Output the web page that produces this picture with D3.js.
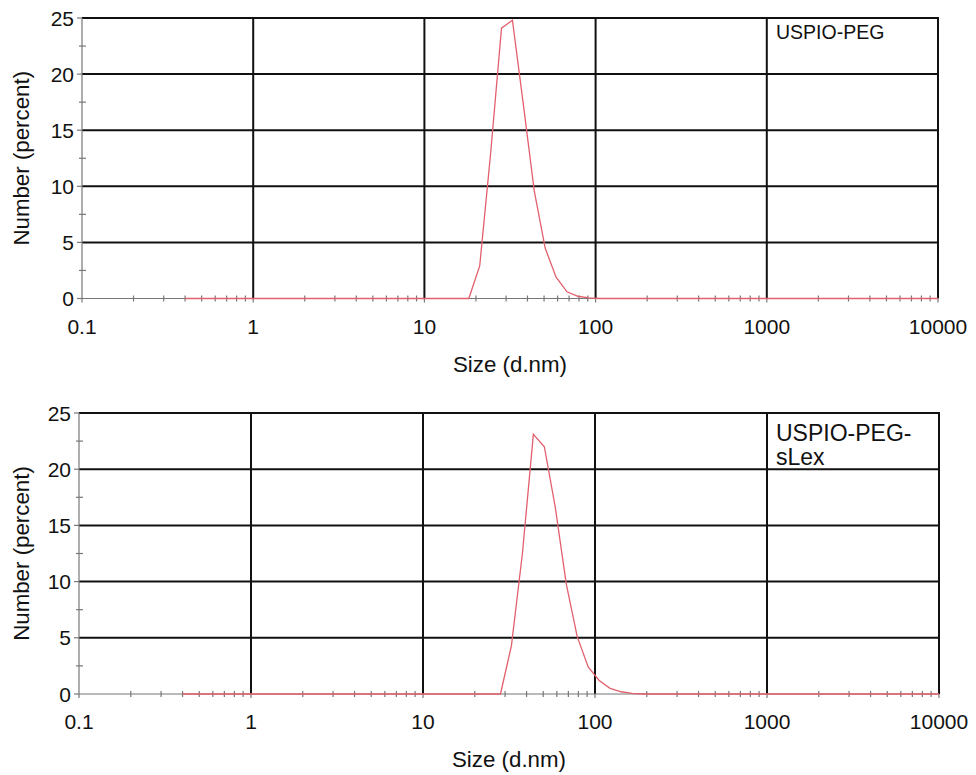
<!DOCTYPE html>
<html>
<head>
<meta charset="utf-8">
<script src="https://cdn.jsdelivr.net/npm/d3@7"></script>
<style>
  html, body { margin: 0; padding: 0; background: #fff; }
  svg { display: block; font-family: "Liberation Sans", Arial, Helvetica, sans-serif; }
</style>
</head>
<body>
<svg id="chart" width="976" height="775"></svg>
<script>
// ---- data ----
const sizes = [0.4, 0.4632, 0.5365, 0.6213, 0.7195, 0.8332, 0.9649, 1.117, 1.294, 1.499,
  1.736, 2.01, 2.328, 2.696, 3.122, 3.615, 4.187, 4.849, 5.615, 6.503,
  7.531, 8.721, 10.1, 11.7, 13.54, 15.69, 18.17, 21.04, 24.36, 28.21,
  32.67, 37.84, 43.82, 50.75, 58.77, 68.06, 78.82, 91.28, 105.7, 122.4,
  141.8, 164.2, 190.1, 220.2, 255.0, 295.3, 342.0, 396.1, 458.7, 531.2,
  615.1, 712.4, 825.0, 955.4, 1106, 1281, 1484, 1718, 1990, 2305,
  2669, 3091, 3580, 4145, 4801, 5560, 6439, 7456, 8635, 10000];

const pegValues = [0,0,0,0,0,0,0,0,0,0,
  0,0,0,0,0,0,0,0,0,0,
  0,0,0,0,0,0,0,2.9,12.9,24.1,
  24.8,17.3,9.6,4.5,1.9,0.6,0.2,0.05,0,0,
  0,0,0,0,0,0,0,0,0,0,
  0,0,0,0,0,0,0,0,0,0,
  0,0,0,0,0,0,0,0,0,0];

const slexValues = [0,0,0,0,0,0,0,0,0,0,
  0,0,0,0,0,0,0,0,0,0,
  0,0,0,0,0,0,0,0,0,0,
  4.3,12.5,23.1,22.0,16.6,9.8,5.1,2.4,1.2,0.5,
  0.2,0.06,0,0,0,0,0,0,0,0,
  0,0,0,0,0,0,0,0,0,0,
  0,0,0,0,0,0,0,0,0,0];

const xMajorTicks = [0.1, 1, 10, 100, 1000, 10000];
const xTickLabels = ["0.1", "1", "10", "100", "1000", "10000"];
const yMajorTicks = [0, 5, 10, 15, 20, 25];
const yMinorTicks = [2.5, 7.5, 12.5, 17.5, 22.5];
const xTitle = "Size (d.nm)";
const yTitle = "Number (percent)";
const legendTop = ["USPIO-PEG"];
const legendBottom = ["USPIO-PEG-", "sLex"];

// ---- layout ----
const panels = [
  { values: pegValues, x0: 82, x1: 938, yTop: 18, yBot: 298.5, legend: legendTop, legendSize: 19.5,
    legendX: 776, legendY: 39, tickBase: 334, titleBase: 372 },
  { values: slexValues, x0: 79, x1: 939, yTop: 413, yBot: 694, legend: legendBottom, legendSize: 23,
    legendX: 776, legendY: 441, tickBase: 729, titleBase: 767 }
];

const svg = d3.select("#chart");
const gridColor = "#111";
const axisColor = "#777";
const lineColor = "#e2606e";

const xMinor = [];
for (let e = -1; e < 4; e++) {
  for (let m = 2; m <= 9; m++) xMinor.push(m * Math.pow(10, e));
}

panels.forEach(p => {
  const x = d3.scaleLog().domain([0.1, 10000]).range([p.x0, p.x1]);
  const y = d3.scaleLinear().domain([0, 25]).range([p.yBot, p.yTop]);
  const g = svg.append("g");

  // horizontal grid lines
  g.selectAll(".hg").data(yMajorTicks.filter(d => d > 0)).enter().append("line")
    .attr("x1", p.x0).attr("x2", p.x1)
    .attr("y1", d => y(d)).attr("y2", d => y(d))
    .attr("stroke", gridColor).attr("stroke-width", 2);

  // vertical grid lines
  g.selectAll(".vg").data(xMajorTicks.filter(d => d > 0.1)).enter().append("line")
    .attr("x1", d => x(d)).attr("x2", d => x(d))
    .attr("y1", p.yTop - 1).attr("y2", p.yBot)
    .attr("stroke", gridColor).attr("stroke-width", 2);

  // left axis line
  g.append("line").attr("x1", p.x0).attr("x2", p.x0)
    .attr("y1", p.yTop).attr("y2", p.yBot)
    .attr("stroke", axisColor).attr("stroke-width", 1.2);
  // bottom axis line
  g.append("line").attr("x1", p.x0).attr("x2", p.x1)
    .attr("y1", p.yBot).attr("y2", p.yBot)
    .attr("stroke", axisColor).attr("stroke-width", 1.2);

  // y major ticks (left)
  g.selectAll(".ymt").data(yMajorTicks).enter().append("line")
    .attr("x1", p.x0 - 5).attr("x2", p.x0)
    .attr("y1", d => y(d)).attr("y2", d => y(d))
    .attr("stroke", axisColor).attr("stroke-width", 1.2);
  // y minor ticks (crossing)
  g.selectAll(".ymn").data(yMinorTicks).enter().append("line")
    .attr("x1", p.x0 - 3).attr("x2", p.x0 + 4)
    .attr("y1", d => y(d)).attr("y2", d => y(d))
    .attr("stroke", axisColor).attr("stroke-width", 1.2);
  // x minor ticks (crossing)
  g.selectAll(".xmn").data(xMinor).enter().append("line")
    .attr("x1", d => x(d)).attr("x2", d => x(d))
    .attr("y1", p.yBot - 3).attr("y2", p.yBot + 3)
    .attr("stroke", axisColor).attr("stroke-width", 1.2);
  // x major ticks (down)
  g.selectAll(".xmj").data(xMajorTicks).enter().append("line")
    .attr("x1", d => x(d)).attr("x2", d => x(d))
    .attr("y1", p.yBot).attr("y2", p.yBot + 4)
    .attr("stroke", axisColor).attr("stroke-width", 1.2);

  // y tick labels
  g.selectAll(".ytl").data(yMajorTicks).enter().append("text")
    .attr("x", p.x0 - 8).attr("y", d => y(d) + 7.5)
    .attr("text-anchor", "end").attr("font-size", 21).attr("fill", "#111")
    .text(d => d);
  // x tick labels
  g.selectAll(".xtl").data(xMajorTicks).enter().append("text")
    .attr("x", d => x(d)).attr("y", p.tickBase)
    .attr("text-anchor", "middle").attr("font-size", 21).attr("fill", "#111")
    .text((d, i) => xTickLabels[i]);

  // axis titles
  g.append("text").attr("x", (p.x0 + p.x1) / 2).attr("y", p.titleBase)
    .attr("text-anchor", "middle").attr("font-size", 22.3).attr("fill", "#111")
    .text(xTitle);
  g.append("text")
    .attr("transform", `translate(29, ${(p.yTop + p.yBot) / 2}) rotate(-90)`)
    .attr("text-anchor", "middle").attr("font-size", 22.3).attr("fill", "#111")
    .text(yTitle);

  // legend text
  p.legend.forEach((t, i) => {
    g.append("text").attr("x", p.legendX).attr("y", p.legendY + i * 24)
      .attr("font-size", p.legendSize).attr("fill", "#111").text(t);
  });

  // data line
  const line = d3.line().x((d, i) => x(sizes[i])).y(d => y(d));
  g.append("path").datum(p.values)
    .attr("d", line).attr("fill", "none")
    .attr("stroke", lineColor).attr("stroke-width", 1.3);
});
</script>
</body>
</html>
